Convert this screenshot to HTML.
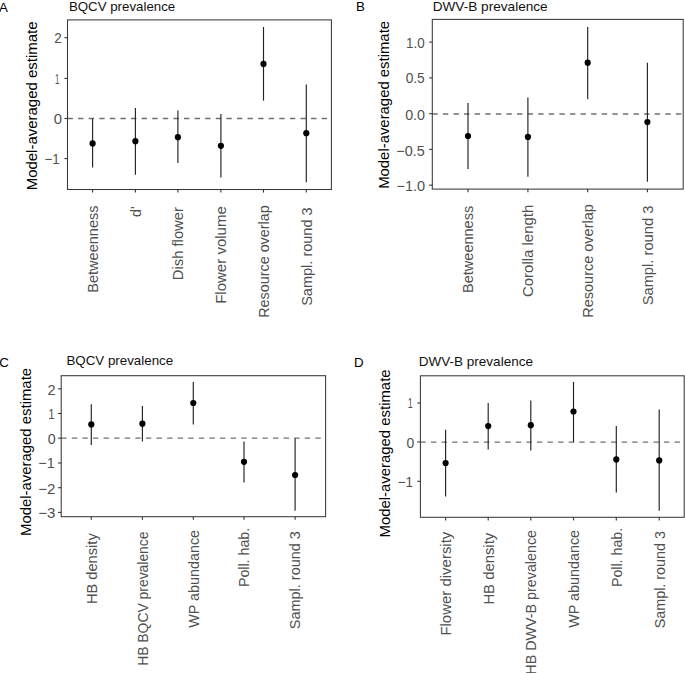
<!DOCTYPE html>
<html><head><meta charset="utf-8"><style>
html,body{margin:0;padding:0;background:#fff;}
body{width:685px;height:673px;overflow:hidden;}
svg{display:block;font-family:"Liberation Sans", sans-serif;}
text{font-family:"Liberation Sans", sans-serif;}
</style></head><body>
<svg width="685" height="673" viewBox="0 0 685 673">
<rect width="685" height="673" fill="#fff"/>
<text x="-0.93" y="12.00" font-size="13.3" fill="#000">A</text>
<text x="68.91" y="11.30" font-size="13.3" fill="#111" textLength="106.28" lengthAdjust="spacingAndGlyphs">BQCV prevalence</text>
<text transform="translate(36.70,189.10) rotate(-90)" x="-1.23" y="0" font-size="14.7" fill="#000" textLength="168.79" lengthAdjust="spacingAndGlyphs">Model-averaged estimate</text>
<line x1="67.5" y1="118.5" x2="331.4" y2="118.5" stroke="#707070" stroke-width="1.3" stroke-dasharray="5.4 5.19"/>
<line x1="92.6" y1="118.5" x2="92.6" y2="167.4" stroke="#222" stroke-width="1.15"/>
<circle cx="92.6" cy="143.4" r="3.1" fill="#000"/>
<line x1="135.4" y1="108.1" x2="135.4" y2="174.7" stroke="#222" stroke-width="1.15"/>
<circle cx="135.4" cy="141.2" r="3.1" fill="#000"/>
<line x1="177.9" y1="110.5" x2="177.9" y2="162.9" stroke="#222" stroke-width="1.15"/>
<circle cx="177.9" cy="137.2" r="3.1" fill="#000"/>
<line x1="220.9" y1="114" x2="220.9" y2="177.6" stroke="#222" stroke-width="1.15"/>
<circle cx="220.9" cy="145.8" r="3.1" fill="#000"/>
<line x1="263.5" y1="27" x2="263.5" y2="100.6" stroke="#222" stroke-width="1.15"/>
<circle cx="263.5" cy="63.9" r="3.1" fill="#000"/>
<line x1="306.3" y1="84.5" x2="306.3" y2="182.2" stroke="#222" stroke-width="1.15"/>
<circle cx="306.3" cy="133.2" r="3.1" fill="#000"/>
<rect x="67.5" y="19.9" width="263.90" height="169.60" fill="none" stroke="#383838" stroke-width="1.05"/>
<line x1="64.4" y1="37.7" x2="67.5" y2="37.7" stroke="#333" stroke-width="1.1"/>
<text x="54.23" y="43.46" font-size="14.5" fill="#505050" textLength="7.45" lengthAdjust="spacingAndGlyphs">2</text>
<line x1="64.4" y1="78.4" x2="67.5" y2="78.4" stroke="#333" stroke-width="1.1"/>
<text x="55.10" y="83.84" font-size="14.5" fill="#505050" textLength="4.39" lengthAdjust="spacingAndGlyphs">1</text>
<line x1="64.4" y1="118.5" x2="67.5" y2="118.5" stroke="#333" stroke-width="1.1"/>
<text x="53.82" y="124.14" font-size="14.5" fill="#505050" textLength="8.26" lengthAdjust="spacingAndGlyphs">0</text>
<line x1="64.4" y1="158.6" x2="67.5" y2="158.6" stroke="#333" stroke-width="1.1"/>
<text x="44.54" y="164.24" font-size="14.5" fill="#505050" textLength="15.21" lengthAdjust="spacingAndGlyphs">−1</text>
<line x1="92.6" y1="189.5" x2="92.6" y2="192.6" stroke="#333" stroke-width="1.1"/>
<text transform="translate(97.90,291.60) rotate(-90)" x="-1.19" y="0" font-size="14.0" fill="#505050" textLength="87.42" lengthAdjust="spacingAndGlyphs">Betweenness</text>
<line x1="135.4" y1="189.5" x2="135.4" y2="192.6" stroke="#333" stroke-width="1.1"/>
<text transform="translate(140.70,216.40) rotate(-90)" x="-0.60" y="0" font-size="14.0" fill="#505050" textLength="10.61" lengthAdjust="spacingAndGlyphs">d&#39;</text>
<line x1="177.9" y1="189.5" x2="177.9" y2="192.6" stroke="#333" stroke-width="1.1"/>
<text transform="translate(183.20,279.00) rotate(-90)" x="-1.21" y="0" font-size="14.0" fill="#505050" textLength="73.16" lengthAdjust="spacingAndGlyphs">Dish flower</text>
<line x1="220.9" y1="189.5" x2="220.9" y2="192.6" stroke="#333" stroke-width="1.1"/>
<text transform="translate(226.20,302.60) rotate(-90)" x="-1.23" y="0" font-size="14.0" fill="#505050" textLength="97.60" lengthAdjust="spacingAndGlyphs">Flower volume</text>
<line x1="263.5" y1="189.5" x2="263.5" y2="192.6" stroke="#333" stroke-width="1.1"/>
<text transform="translate(268.80,316.60) rotate(-90)" x="-1.18" y="0" font-size="14.0" fill="#505050" textLength="112.48" lengthAdjust="spacingAndGlyphs">Resource overlap</text>
<line x1="306.3" y1="189.5" x2="306.3" y2="192.6" stroke="#333" stroke-width="1.1"/>
<text transform="translate(311.60,305.20) rotate(-90)" x="-0.66" y="0" font-size="14.0" fill="#505050" textLength="98.50" lengthAdjust="spacingAndGlyphs">Sampl. round 3</text>
<text x="356.11" y="10.50" font-size="13.3" fill="#000">B</text>
<text x="432.69" y="10.80" font-size="13.3" fill="#111" textLength="115.01" lengthAdjust="spacingAndGlyphs">DWV-B prevalence</text>
<text transform="translate(388.50,187.60) rotate(-90)" x="-1.22" y="0" font-size="14.7" fill="#000" textLength="167.88" lengthAdjust="spacingAndGlyphs">Model-averaged estimate</text>
<line x1="432.3" y1="114.0" x2="683.2" y2="114.0" stroke="#707070" stroke-width="1.3" stroke-dasharray="5.4 5.19"/>
<line x1="468" y1="103" x2="468" y2="169" stroke="#222" stroke-width="1.15"/>
<circle cx="468" cy="136" r="3.1" fill="#000"/>
<line x1="527.9" y1="97.4" x2="527.9" y2="176.8" stroke="#222" stroke-width="1.15"/>
<circle cx="527.9" cy="136.9" r="3.1" fill="#000"/>
<line x1="587.7" y1="27" x2="587.7" y2="99.3" stroke="#222" stroke-width="1.15"/>
<circle cx="587.7" cy="62.7" r="3.1" fill="#000"/>
<line x1="647.4" y1="62.7" x2="647.4" y2="181.7" stroke="#222" stroke-width="1.15"/>
<circle cx="647.4" cy="122.1" r="3.1" fill="#000"/>
<rect x="432.3" y="19.4" width="250.90" height="169.70" fill="none" stroke="#383838" stroke-width="1.05"/>
<line x1="429.2" y1="42.1" x2="432.3" y2="42.1" stroke="#333" stroke-width="1.1"/>
<text x="406.08" y="47.69" font-size="14.5" fill="#505050" textLength="18.65" lengthAdjust="spacingAndGlyphs">1.0</text>
<line x1="429.2" y1="77.9" x2="432.3" y2="77.9" stroke="#333" stroke-width="1.1"/>
<text x="405.66" y="83.34" font-size="14.5" fill="#505050" textLength="19.11" lengthAdjust="spacingAndGlyphs">0.5</text>
<line x1="429.2" y1="113.7" x2="432.3" y2="113.7" stroke="#333" stroke-width="1.1"/>
<text x="405.14" y="119.84" font-size="14.5" fill="#505050" textLength="19.81" lengthAdjust="spacingAndGlyphs">0.0</text>
<line x1="429.2" y1="149.4" x2="432.3" y2="149.4" stroke="#333" stroke-width="1.1"/>
<text x="396.29" y="155.84" font-size="14.5" fill="#505050" textLength="28.41" lengthAdjust="spacingAndGlyphs">−0.5</text>
<line x1="429.2" y1="185.2" x2="432.3" y2="185.2" stroke="#333" stroke-width="1.1"/>
<text x="396.48" y="190.99" font-size="14.5" fill="#505050" textLength="28.68" lengthAdjust="spacingAndGlyphs">−1.0</text>
<line x1="468" y1="189.1" x2="468" y2="192.2" stroke="#333" stroke-width="1.1"/>
<text transform="translate(473.30,291.80) rotate(-90)" x="-1.19" y="0" font-size="14.0" fill="#505050" textLength="87.22" lengthAdjust="spacingAndGlyphs">Betweenness</text>
<line x1="527.9" y1="189.1" x2="527.9" y2="192.2" stroke="#333" stroke-width="1.1"/>
<text transform="translate(533.20,296.30) rotate(-90)" x="-0.76" y="0" font-size="14.0" fill="#505050" textLength="92.33" lengthAdjust="spacingAndGlyphs">Corolla length</text>
<line x1="587.7" y1="189.1" x2="587.7" y2="192.2" stroke="#333" stroke-width="1.1"/>
<text transform="translate(593.00,316.50) rotate(-90)" x="-1.19" y="0" font-size="14.0" fill="#505050" textLength="113.50" lengthAdjust="spacingAndGlyphs">Resource overlap</text>
<line x1="647.4" y1="189.1" x2="647.4" y2="192.2" stroke="#333" stroke-width="1.1"/>
<text transform="translate(652.70,304.70) rotate(-90)" x="-0.67" y="0" font-size="14.0" fill="#505050" textLength="99.71" lengthAdjust="spacingAndGlyphs">Sampl. round 3</text>
<text x="-0.88" y="367.40" font-size="13.3" fill="#000">C</text>
<text x="66.41" y="365.20" font-size="13.3" fill="#111" textLength="106.79" lengthAdjust="spacingAndGlyphs">BQCV prevalence</text>
<text transform="translate(30.50,534.80) rotate(-90)" x="-1.22" y="0" font-size="14.7" fill="#000" textLength="168.08" lengthAdjust="spacingAndGlyphs">Model-averaged estimate</text>
<line x1="61.2" y1="438.1" x2="325.6" y2="438.1" stroke="#707070" stroke-width="1.3" stroke-dasharray="5.4 5.19"/>
<line x1="91.3" y1="404.2" x2="91.3" y2="445.1" stroke="#222" stroke-width="1.15"/>
<circle cx="91.3" cy="424.4" r="3.1" fill="#000"/>
<line x1="142.4" y1="405.9" x2="142.4" y2="441.6" stroke="#222" stroke-width="1.15"/>
<circle cx="142.4" cy="423.7" r="3.1" fill="#000"/>
<line x1="193.3" y1="381.9" x2="193.3" y2="424.6" stroke="#222" stroke-width="1.15"/>
<circle cx="193.3" cy="403" r="3.1" fill="#000"/>
<line x1="244" y1="441.4" x2="244" y2="482.4" stroke="#222" stroke-width="1.15"/>
<circle cx="244" cy="461.8" r="3.1" fill="#000"/>
<line x1="295.1" y1="438.2" x2="295.1" y2="510.7" stroke="#222" stroke-width="1.15"/>
<circle cx="295.1" cy="475" r="3.1" fill="#000"/>
<rect x="61.2" y="375.7" width="264.40" height="141.00" fill="none" stroke="#383838" stroke-width="1.05"/>
<line x1="58.1" y1="388.8" x2="61.2" y2="388.8" stroke="#333" stroke-width="1.1"/>
<text x="47.47" y="394.66" font-size="14.5" fill="#505050" textLength="8.06" lengthAdjust="spacingAndGlyphs">2</text>
<line x1="58.1" y1="413.5" x2="61.2" y2="413.5" stroke="#333" stroke-width="1.1"/>
<text x="48.22" y="419.19" font-size="14.5" fill="#505050" textLength="6.45" lengthAdjust="spacingAndGlyphs">1</text>
<line x1="58.1" y1="438.2" x2="61.2" y2="438.2" stroke="#333" stroke-width="1.1"/>
<text x="47.64" y="444.04" font-size="14.5" fill="#505050" textLength="7.91" lengthAdjust="spacingAndGlyphs">0</text>
<line x1="58.1" y1="463" x2="61.2" y2="463" stroke="#333" stroke-width="1.1"/>
<text x="38.29" y="468.44" font-size="14.5" fill="#505050" textLength="16.52" lengthAdjust="spacingAndGlyphs">−1</text>
<line x1="58.1" y1="487.7" x2="61.2" y2="487.7" stroke="#333" stroke-width="1.1"/>
<text x="38.25" y="493.56" font-size="14.5" fill="#505050" textLength="17.31" lengthAdjust="spacingAndGlyphs">−2</text>
<line x1="58.1" y1="512.4" x2="61.2" y2="512.4" stroke="#333" stroke-width="1.1"/>
<text x="38.26" y="518.09" font-size="14.5" fill="#505050" textLength="17.21" lengthAdjust="spacingAndGlyphs">−3</text>
<line x1="91.3" y1="516.7" x2="91.3" y2="519.8000000000001" stroke="#333" stroke-width="1.1"/>
<text transform="translate(96.60,602.90) rotate(-90)" x="-1.20" y="0" font-size="14.0" fill="#505050" textLength="70.83" lengthAdjust="spacingAndGlyphs">HB density</text>
<line x1="142.4" y1="516.7" x2="142.4" y2="519.8000000000001" stroke="#333" stroke-width="1.1"/>
<text transform="translate(147.70,664.70) rotate(-90)" x="-1.14" y="0" font-size="14.0" fill="#505050" textLength="134.36" lengthAdjust="spacingAndGlyphs">HB BQCV prevalence</text>
<line x1="193.3" y1="516.7" x2="193.3" y2="519.8000000000001" stroke="#333" stroke-width="1.1"/>
<text transform="translate(198.60,627.80) rotate(-90)" x="-0.06" y="0" font-size="14.0" fill="#505050" textLength="97.90" lengthAdjust="spacingAndGlyphs">WP abundance</text>
<line x1="244" y1="516.7" x2="244" y2="519.8000000000001" stroke="#333" stroke-width="1.1"/>
<text transform="translate(249.30,585.90) rotate(-90)" x="-1.16" y="0" font-size="14.0" fill="#505050" textLength="59.16" lengthAdjust="spacingAndGlyphs">Poll. hab.</text>
<line x1="295.1" y1="516.7" x2="295.1" y2="519.8000000000001" stroke="#333" stroke-width="1.1"/>
<text transform="translate(300.40,628.60) rotate(-90)" x="-0.66" y="0" font-size="14.0" fill="#505050" textLength="98.19" lengthAdjust="spacingAndGlyphs">Sampl. round 3</text>
<text x="354.11" y="366.80" font-size="13.3" fill="#000">D</text>
<text x="418.70" y="366.10" font-size="13.3" fill="#111" textLength="114.30" lengthAdjust="spacingAndGlyphs">DWV-B prevalence</text>
<text transform="translate(389.50,536.30) rotate(-90)" x="-1.22" y="0" font-size="14.7" fill="#000" textLength="168.08" lengthAdjust="spacingAndGlyphs">Model-averaged estimate</text>
<line x1="420.4" y1="442.2" x2="684.2" y2="442.2" stroke="#707070" stroke-width="1.3" stroke-dasharray="5.4 5.19"/>
<line x1="445.6" y1="429.7" x2="445.6" y2="496.5" stroke="#222" stroke-width="1.15"/>
<circle cx="445.6" cy="463" r="3.1" fill="#000"/>
<line x1="488.2" y1="403" x2="488.2" y2="449.4" stroke="#222" stroke-width="1.15"/>
<circle cx="488.2" cy="426.1" r="3.1" fill="#000"/>
<line x1="530.8" y1="400.6" x2="530.8" y2="450.5" stroke="#222" stroke-width="1.15"/>
<circle cx="530.8" cy="425.2" r="3.1" fill="#000"/>
<line x1="573.5" y1="381.9" x2="573.5" y2="442.1" stroke="#222" stroke-width="1.15"/>
<circle cx="573.5" cy="411.5" r="3.1" fill="#000"/>
<line x1="616.3" y1="425.9" x2="616.3" y2="492.6" stroke="#222" stroke-width="1.15"/>
<circle cx="616.3" cy="459.4" r="3.1" fill="#000"/>
<line x1="659.2" y1="409.6" x2="659.2" y2="510.7" stroke="#222" stroke-width="1.15"/>
<circle cx="659.2" cy="460.4" r="3.1" fill="#000"/>
<rect x="420.4" y="375.8" width="263.80" height="141.50" fill="none" stroke="#383838" stroke-width="1.05"/>
<line x1="417.29999999999995" y1="403" x2="420.4" y2="403" stroke="#333" stroke-width="1.1"/>
<text x="407.81" y="408.09" font-size="14.5" fill="#505050" textLength="5.03" lengthAdjust="spacingAndGlyphs">1</text>
<line x1="417.29999999999995" y1="441.9" x2="420.4" y2="441.9" stroke="#333" stroke-width="1.1"/>
<text x="406.55" y="447.94" font-size="14.5" fill="#505050" textLength="7.79" lengthAdjust="spacingAndGlyphs">0</text>
<line x1="417.29999999999995" y1="481.3" x2="420.4" y2="481.3" stroke="#333" stroke-width="1.1"/>
<text x="397.74" y="487.49" font-size="14.5" fill="#505050" textLength="15.32" lengthAdjust="spacingAndGlyphs">−1</text>
<line x1="445.6" y1="517.3" x2="445.6" y2="520.4" stroke="#333" stroke-width="1.1"/>
<text transform="translate(450.90,634.40) rotate(-90)" x="-1.23" y="0" font-size="14.0" fill="#505050" textLength="103.96" lengthAdjust="spacingAndGlyphs">Flower diversity</text>
<line x1="488.2" y1="517.3" x2="488.2" y2="520.4" stroke="#333" stroke-width="1.1"/>
<text transform="translate(493.50,603.40) rotate(-90)" x="-1.22" y="0" font-size="14.0" fill="#505050" textLength="71.85" lengthAdjust="spacingAndGlyphs">HB density</text>
<line x1="530.8" y1="517.3" x2="530.8" y2="520.4" stroke="#333" stroke-width="1.1"/>
<text transform="translate(536.10,673.50) rotate(-90)" x="-1.17" y="0" font-size="14.0" fill="#505050" textLength="144.70" lengthAdjust="spacingAndGlyphs">HB DWV-B prevalence</text>
<line x1="573.5" y1="517.3" x2="573.5" y2="520.4" stroke="#333" stroke-width="1.1"/>
<text transform="translate(578.80,627.80) rotate(-90)" x="-0.06" y="0" font-size="14.0" fill="#505050" textLength="97.90" lengthAdjust="spacingAndGlyphs">WP abundance</text>
<line x1="616.3" y1="517.3" x2="616.3" y2="520.4" stroke="#333" stroke-width="1.1"/>
<text transform="translate(621.60,585.90) rotate(-90)" x="-1.16" y="0" font-size="14.0" fill="#505050" textLength="59.16" lengthAdjust="spacingAndGlyphs">Poll. hab.</text>
<line x1="659.2" y1="517.3" x2="659.2" y2="520.4" stroke="#333" stroke-width="1.1"/>
<text transform="translate(664.50,627.70) rotate(-90)" x="-0.65" y="0" font-size="14.0" fill="#505050" textLength="97.28" lengthAdjust="spacingAndGlyphs">Sampl. round 3</text>
</svg>
</body></html>
